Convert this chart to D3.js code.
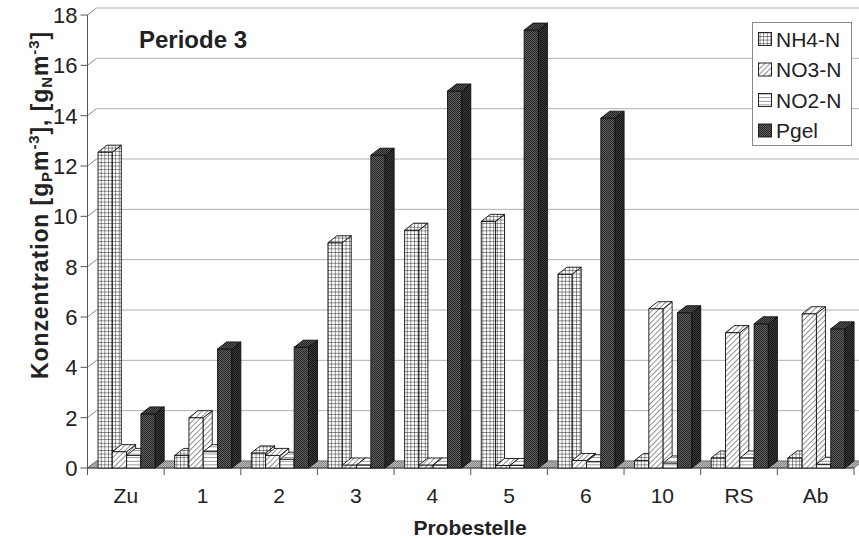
<!DOCTYPE html>
<html><head><meta charset="utf-8">
<script src="https://cdn.jsdelivr.net/npm/d3@7"></script>
<style>html,body{margin:0;padding:0;background:#fff}svg{display:block}text{font-family:"Liberation Sans",Arial,sans-serif;fill:#222}</style>
</head><body>
<svg id="c" width="859" height="538"></svg>
<script>
const categories = ["Zu","1","2","3","4","5","6","10","RS","Ab"];
const seriesNames = ["NH4-N","NO3-N","NO2-N","Pgel"];
const nh4  = [12.55, 0.5, 0.6, 8.95, 9.45, 9.8, 7.7, 0.3, 0.4, 0.4];
const no3  = [0.65, 2.0, 0.5, 0.12, 0.12, 0.1, 0.3, 6.33, 5.38, 6.13];
const no2  = [0.5, 0.65, 0.35, 0.12, 0.12, 0.1, 0.25, 0.2, 0.4, 0.15];
const pgel = [2.15, 4.73, 4.8, 12.43, 14.98, 17.4, 13.9, 6.17, 5.73, 5.53];
const yTicks = [0,2,4,6,8,10,12,14,16,18];
const series = [nh4, no3, no2, pgel];

const svg = d3.select("#c");
const W = 859, H = 538;
const x0 = 87.5, x1 = 854, yB = 468, yT = 15;
const dx = 9, dy = -7;
const x = d3.scaleBand().domain(categories).range([x0, x1]).paddingInner(0).paddingOuter(0);
const y = d3.scaleLinear().domain([0, 18]).range([yB, yT]);
const sub = d3.scaleBand().domain(d3.range(4)).range([10.5, 10.5 + 4*14.3]);

const defs = svg.append("defs");
function pat(id, w, h, build, transform){
  const p = defs.append("pattern").attr("id", id).attr("patternUnits","userSpaceOnUse")
    .attr("width", w).attr("height", h);
  if (transform) p.attr("patternTransform", transform);
  build(p);
}
pat("grid", 3.6, 3.6, p => {
  p.append("rect").attr("width",3.6).attr("height",3.6).attr("fill","#fff");
  p.append("path").attr("d","M0,0H3.6M0,0V3.6").attr("stroke","#111").attr("stroke-width",0.9);
});
pat("diag", 3.8, 3.8, p => {
  p.append("rect").attr("width",3.8).attr("height",3.8).attr("fill","#fff");
  p.append("path").attr("d","M0,0V3.8").attr("stroke","#111").attr("stroke-width",0.9);
}, "rotate(45)");
pat("hl", 4, 3.6, p => {
  p.append("rect").attr("width",4).attr("height",3.6).attr("fill","#fff");
  p.append("path").attr("d","M0,0H4").attr("stroke","#111").attr("stroke-width",0.9);
});
function stip(id, base, dot){
  pat(id, 2, 2, p => {
    p.append("rect").attr("width",2).attr("height",2).attr("fill",base);
    p.append("rect").attr("width",1).attr("height",1).attr("fill",dot);
    p.append("rect").attr("x",1).attr("y",1).attr("width",1).attr("height",1).attr("fill",dot);
  });
}
stip("pgF", "#606060", "#262626");
stip("pgS", "#3c3c3c", "#131313");
stip("pgT", "#555", "#222");
stip("floorP", "#b8b8b8", "#8a8a8a");

const fills = [
  {f:"url(#grid)", s:"url(#grid)", t:"url(#grid)"},
  {f:"url(#diag)", s:"url(#diag)", t:"url(#diag)"},
  {f:"url(#hl)",   s:"url(#hl)",   t:"url(#hl)"},
  {f:"url(#pgF)",  s:"url(#pgS)",  t:"url(#pgT)"}
];

const g = svg.append("g");
yTicks.forEach(v => {
  const yy = y(v);
  g.append("line").attr("x1", x0+dx).attr("x2", W).attr("y1", yy+dy).attr("y2", yy+dy)
    .attr("stroke","#b0b0b0").attr("stroke-width",1);
  g.append("line").attr("x1", x0).attr("y1", yy).attr("x2", x0+dx).attr("y2", yy+dy)
    .attr("stroke","#888").attr("stroke-width",1);
  g.append("line").attr("x1", x0-7).attr("x2", x0).attr("y1", yy).attr("y2", yy)
    .attr("stroke","#555").attr("stroke-width",1);
  g.append("text").attr("x", x0-10).attr("y", yy).attr("dy","0.36em")
    .attr("text-anchor","end").attr("font-size",22).text(v);
});
g.append("line").attr("x1",x0).attr("x2",x0).attr("y1",y(18)).attr("y2",y(0))
  .attr("stroke","#555").attr("stroke-width",1);

g.append("path").attr("d", `M${x0},${yB}L${x1},${yB}L${x1+dx},${yB+dy}L${x0+dx},${yB+dy}Z`)
  .attr("fill","url(#floorP)").attr("stroke","#666").attr("stroke-width",0.8);
g.append("line").attr("x1",x0).attr("x2",x1).attr("y1",yB).attr("y2",yB)
  .attr("stroke","#444").attr("stroke-width",1);
categories.concat(["__end"]).forEach((c,i) => {
  const xx = i < categories.length ? x(c) : x1;
  g.append("line").attr("x1",xx).attr("x2",xx).attr("y1",yB).attr("y2",yB+7)
    .attr("stroke","#555").attr("stroke-width",1);
});
categories.forEach(c => {
  g.append("text").attr("x", x(c)+x.bandwidth()/2).attr("y", 503)
    .attr("text-anchor","middle").attr("font-size",21).text(c);
});

const bars = svg.append("g");
categories.forEach((c, ci) => {
  series.forEach((arr, si) => {
    const v = arr[ci];
    const xa = x(c) + sub(si), xb = xa + sub.bandwidth();
    const yt = y(v), yb = y(0);
    const st = {stroke:"#111", "stroke-width":0.9, "stroke-linejoin":"round"};
    const bg = bars.append("g");
    const front = bg.append("rect").attr("x",xa).attr("y",yt).attr("width",xb-xa).attr("height",yb-yt)
      .attr("fill",fills[si].f);
    const side = bg.append("path").attr("d",`M${xb},${yt}L${xb+dx},${yt+dy}L${xb+dx},${yb+dy}L${xb},${yb}Z`)
      .attr("fill",fills[si].s);
    const top = bg.append("path").attr("d",`M${xa},${yt}L${xb},${yt}L${xb+dx},${yt+dy}L${xa+dx},${yt+dy}Z`)
      .attr("fill",fills[si].t);
    [front, side, top].forEach(s => Object.entries(st).forEach(([k,val]) => s.attr(k,val)));
  });
});

svg.append("text").attr("x",139).attr("y",48).attr("font-size",24).attr("font-weight","bold")
  .text("Periode 3");

const yl = svg.append("text").attr("transform","translate(48,205) rotate(-90)")
  .attr("text-anchor","middle").attr("font-size",23).attr("font-weight","bold")
  .attr("letter-spacing",0.9);
yl.append("tspan").text("Konzentration [g");
yl.append("tspan").attr("font-size",15).attr("dy",4).text("P");
yl.append("tspan").attr("dy",-4).text("m");
yl.append("tspan").attr("font-size",15).attr("dy",-9).text("-3");
yl.append("tspan").attr("dy",9).text("], [g");
yl.append("tspan").attr("font-size",15).attr("dy",4).text("N");
yl.append("tspan").attr("dy",-4).text("m");
yl.append("tspan").attr("font-size",15).attr("dy",-9).text("-3");
yl.append("tspan").attr("dy",9).text("]");

svg.append("text").attr("x",470).attr("y",535).attr("text-anchor","middle")
  .attr("font-size",21).attr("font-weight","bold").text("Probestelle");

const lg = svg.append("g");
lg.append("rect").attr("x",752.5).attr("y",22.5).attr("width",99).attr("height",123)
  .attr("fill","#fff").attr("stroke","#888").attr("stroke-width",1);
seriesNames.forEach((n,i) => {
  const cy = 39 + i*30.5;
  lg.append("rect").attr("x",758.5).attr("y",cy-6.5).attr("width",13).attr("height",13)
    .attr("fill",fills[i].f).attr("stroke","#111").attr("stroke-width",0.9);
  lg.append("text").attr("x",776).attr("y",cy).attr("dy","0.36em").attr("font-size",21).text(n);
});
</script>
</body></html>
